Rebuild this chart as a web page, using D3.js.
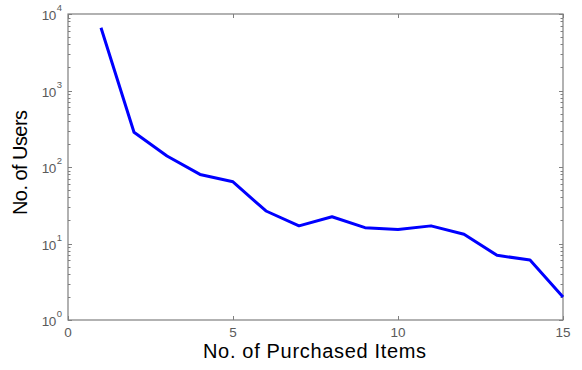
<!DOCTYPE html>
<html>
<head>
<meta charset="utf-8">
<script src="https://cdn.jsdelivr.net/npm/d3@7"></script>
<style>
  html, body { margin: 0; padding: 0; background: #fff; }
  svg { display: block; font-family: Arial, "Liberation Sans", Helvetica, sans-serif; }
</style>
</head>
<body>
<svg id="chart" width="582" height="370"></svg>
<script>
// Number of users by number of purchased items
const items = [1, 2, 3, 4, 5, 6, 7, 8, 9, 10, 11, 12, 13, 14, 15];
const users = [6600, 285, 139, 80, 64, 26.6, 17, 22.4, 16.1, 15.2, 17, 13.2, 7, 6.1, 2];
const xTicks = [0, 5, 10, 15];
const yExponents = [0, 1, 2, 3, 4];

(function draw() {
  const svg = d3.select("#chart");
  const mLeft = 68, mRight = 563, mTop = 14, mBottom = 320;
  const axisColor = "#7f7f7f";
  const labelColor = "#5a5a5a";

  const x = d3.scaleLinear().domain([0, 15]).range([mLeft, mRight]);
  const y = d3.scaleLog().domain([1, 1e4]).range([mBottom, mTop]);

  // box
  svg.append("rect")
    .attr("x", mLeft).attr("y", mTop)
    .attr("width", mRight - mLeft).attr("height", mBottom - mTop)
    .attr("fill", "none").attr("stroke", axisColor).attr("stroke-width", 1.2);

  const g = svg.append("g");

  // x ticks (inward, bottom and top)
  xTicks.forEach(t => {
    const px = Math.round(x(t)) + 0.5;
    g.append("line").attr("x1", px).attr("x2", px).attr("y1", mBottom).attr("y2", mBottom - 4)
      .attr("stroke", axisColor);
    g.append("line").attr("x1", px).attr("x2", px).attr("y1", mTop).attr("y2", mTop + 4)
      .attr("stroke", axisColor);
    g.append("text").attr("x", x(t)).attr("y", mBottom + 17)
      .attr("text-anchor", "middle").attr("font-size", 13.5).attr("fill", labelColor)
      .text(t);
  });

  // y major and minor log ticks (inward, left and right)
  yExponents.forEach((e, i) => {
    const base = Math.pow(10, e);
    const py = Math.round(y(base)) + 0.5;
    [[mLeft, mLeft + 4], [mRight, mRight - 4]].forEach(([a, b]) => {
      g.append("line").attr("x1", a).attr("x2", b).attr("y1", py).attr("y2", py).attr("stroke", axisColor);
    });
    if (i < yExponents.length - 1) {
      for (let m = 2; m <= 9; m++) {
        const my = Math.round(y(base * m)) + 0.5;
        [[mLeft, mLeft + 2.5], [mRight, mRight - 2.5]].forEach(([a, b]) => {
          g.append("line").attr("x1", a).attr("x2", b).attr("y1", my).attr("y2", my).attr("stroke", axisColor);
        });
      }
    }
    const lab = g.append("text").attr("x", mLeft - 6).attr("y", y(base) + 6)
      .attr("text-anchor", "end").attr("font-size", 13.5).attr("fill", labelColor);
    lab.append("tspan").attr("letter-spacing", -0.5).text("10");
    lab.append("tspan").attr("dy", -9).attr("dx", 1).attr("font-size", 9.5).text(e);
  });

  // data line
  const line = d3.line().x((d, i) => x(items[i])).y(d => y(d));
  svg.append("path").datum(users)
    .attr("d", line)
    .attr("fill", "none").attr("stroke", "#0000ff")
    .attr("stroke-width", 3).attr("stroke-linejoin", "round");

  // axis titles
  svg.append("text").attr("x", 203).attr("y", 358)
    .attr("font-size", 20).attr("fill", "#000")
    .attr("textLength", 223).attr("lengthAdjust", "spacing")
    .text("No. of Purchased Items");
  svg.append("text")
    .attr("transform", "translate(27,215) rotate(-90)")
    .attr("font-size", 20).attr("fill", "#000")
    .attr("textLength", 105).attr("lengthAdjust", "spacing")
    .text("No. of Users");
})();
</script>
</body>
</html>
